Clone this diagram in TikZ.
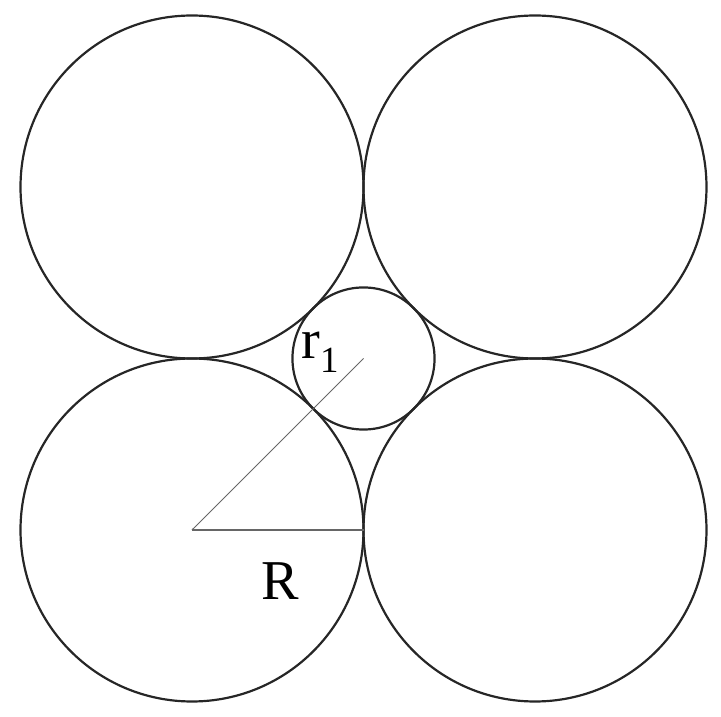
\documentclass[tikz,border=0pt]{standalone}
\usepackage{fontspec}
\setmainfont{Liberation Serif}
\begin{document}
\begin{tikzpicture}
            \useasboundingbox (0,0) rectangle (14.42,14.34);
            % centres of the big circles
            \coordinate (bl) at (3.84,3.74);
            \coordinate (tl) at (3.84,10.6);
            \coordinate (tr) at (10.7,10.6);
            \coordinate (br) at (10.7,3.74);
            \coordinate (mid) at (7.27,7.17);
            \coordinate (touch) at (7.27,3.74);
            % big circles
            \foreach \c in {bl,tl,tr,br}
              \draw [line width=1.25pt, black!85] (\c) circle (3.43);
            % small circle in the middle
            \draw [line width=1.25pt, black!85] (mid) circle (1.4208);
            % radius lines
            \draw [line width=0.6pt, black!60] (bl) -- (mid);
            \draw [line width=0.6pt, black!60] (bl) -- (touch);
            % labels
            \node (rsmall) [align=center,font=\fontsize{32pt}{32pt}\selectfont] at (6.4,7.3) {r\raisebox{-0.55ex}{\fontsize{21pt}{21pt}\selectfont 1}};
            \node (rbig) [align=center,font=\fontsize{32pt}{32pt}\selectfont] at (5.6,2.72) {R};
\end{tikzpicture}
\end{document}
